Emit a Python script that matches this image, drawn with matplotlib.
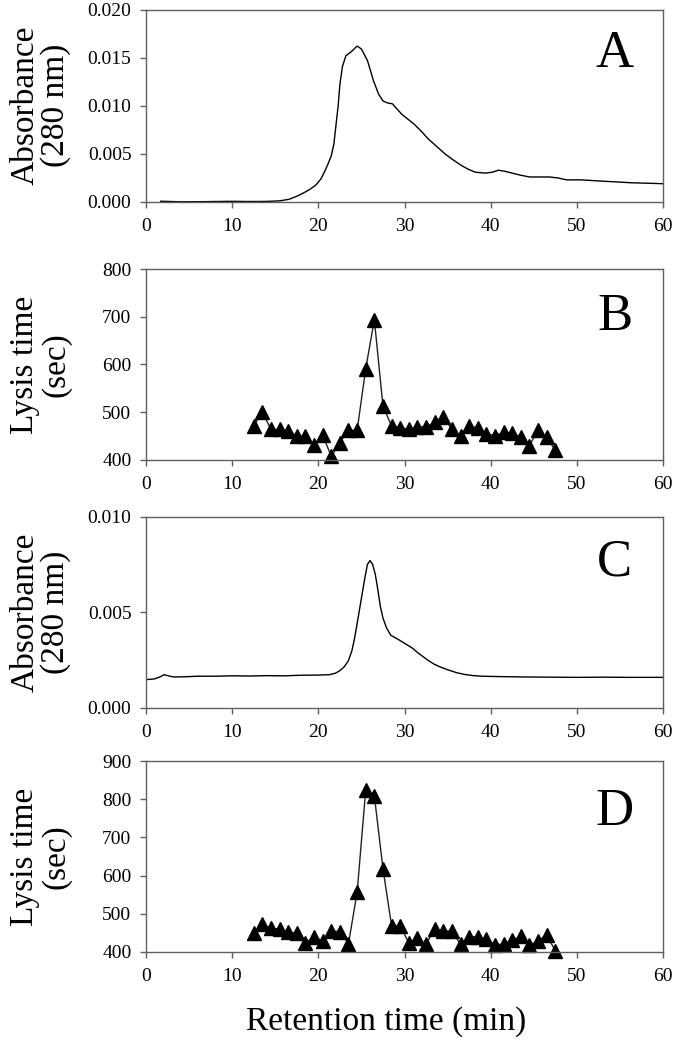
import matplotlib
matplotlib.use('Agg')
import matplotlib.pyplot as plt
from matplotlib.ticker import FormatStrFormatter

plt.rcParams['font.family'] = ['Liberation Serif', 'DejaVu Serif']

# Panel A: absorbance trace
a_time = [1.7, 4, 6, 8, 10, 12, 14, 15.5, 16.6, 17.5, 18.2, 19.0, 19.7, 20.3, 20.7,
          21.1, 21.5, 21.8, 22.0, 22.3, 22.5, 22.8, 23.2, 23.8, 24.5, 25.0, 25.7, 26.4,
          27.0, 27.5, 28.0, 28.6, 29.2, 29.7, 30.4, 31.1, 31.9, 32.7, 33.7, 34.7, 35.6,
          36.6, 37.4, 38.2, 39.4, 40.2, 40.9, 41.6, 42.5, 43.4, 44.5, 45.5, 46.8, 47.8,
          48.8, 50.5, 52.3, 54.3, 56.3, 58.2, 60]
a_abs = [0.00008, 0.00002, 0.00003, 0.00005, 0.00007, 0.00005, 0.00006, 0.00012,
         0.00028, 0.0006, 0.0009, 0.0013, 0.00175, 0.0024, 0.0031, 0.0039, 0.0048,
         0.0060, 0.0076, 0.0100, 0.0122, 0.0141, 0.0152, 0.0156, 0.0162, 0.0159,
         0.0147, 0.0126, 0.0112, 0.0105, 0.0103, 0.0102, 0.0096, 0.0091, 0.0086,
         0.0081, 0.0074, 0.0066, 0.0058, 0.0050, 0.0044, 0.0038, 0.0034, 0.0031,
         0.0030, 0.0031, 0.0033, 0.0032, 0.0030, 0.0028, 0.0026, 0.0026, 0.0026,
         0.0025, 0.0023, 0.0023, 0.0022, 0.0021, 0.0020, 0.00195, 0.0019]

# Panel B: lysis time of fractions
b_time = [12.5 + i for i in range(36)]
b_lysis = [471, 501, 464, 464, 461, 450, 450, 432, 452, 408, 436, 463, 462, 591,
           694, 513, 471, 468, 464, 470, 469, 479, 491, 464, 451, 472, 467, 455,
           451, 458, 456, 448, 430, 463, 448, 420]

# Panel C: absorbance trace
c_time = [0, 1.0, 1.6, 2.1, 2.6, 3.2, 4.5, 6, 8, 10, 12, 14, 16, 18, 20, 21.3, 22.0,
          22.5, 23.0, 23.5, 23.9, 24.2, 24.5, 24.8, 25.1, 25.4, 25.7, 26.0, 26.3, 26.6,
          26.9, 27.2, 27.5, 27.9, 28.4, 29.2, 30.3, 31.0, 31.5, 32.1, 32.7, 33.4, 34.1,
          35.0, 36.0, 37.0, 38.0, 39.0, 41, 44, 47, 50, 53, 56, 60]
c_abs = [0.00148, 0.00152, 0.00162, 0.00174, 0.00168, 0.00162, 0.00163, 0.00166,
         0.00166, 0.00168, 0.00167, 0.00169, 0.00168, 0.00171, 0.00172, 0.00174,
         0.00182, 0.00195, 0.00215, 0.00248, 0.0030, 0.00363, 0.0044, 0.0052, 0.0060,
         0.0068, 0.0075, 0.0077, 0.0075, 0.0070, 0.0062, 0.0053, 0.0047, 0.0042,
         0.0038, 0.0036, 0.0033, 0.0031, 0.0029, 0.0027, 0.0025, 0.0023, 0.00215,
         0.0020, 0.00185, 0.00175, 0.00169, 0.00166, 0.00164, 0.00162, 0.00161,
         0.00160, 0.00161, 0.00160, 0.00160]

# Panel D: lysis time of fractions
d_time = [12.5 + i for i in range(36)]
d_lysis = [450, 472, 462, 460, 452, 450, 424, 439, 429, 455, 453, 422, 556, 824,
           809, 618, 469, 468, 424, 437, 420, 460, 455, 455, 420, 440, 440, 434,
           419, 421, 431, 441, 419, 428, 445, 403]

x_ticks = [0, 10, 20, 30, 40, 50, 60]

W, H = 675, 1047
fig = plt.figure(figsize=(W / 100, H / 100), dpi=100)
frame = '#606060'


def make_axes(top, bottom):
    ax = fig.add_axes([146 / W, 1 - bottom / H, 517 / W, (bottom - top) / H])
    for s in ax.spines.values():
        s.set_color(frame)
        s.set_linewidth(1.0)
    ax.tick_params(direction='out', length=4.5, width=1, color=frame,
                   labelsize=14, top=False, right=False)
    ax.tick_params(axis='y', pad=6)
    ax.tick_params(axis='x', pad=7)
    ax.set_xlim(0, 60)
    ax.set_xticks(x_ticks)
    return ax


axA = make_axes(9.5, 202)
axA.plot(a_time, a_abs, color='black', lw=1.0)
axA.set_ylim(0, 0.020)
axA.set_yticks([0, 0.005, 0.010, 0.015, 0.020])
axA.yaxis.set_major_formatter(FormatStrFormatter('%.3f'))
axA.set_ylabel('Absorbance\n(280 nm)', fontsize=24, linespacing=1.0)

axB = make_axes(269, 460)
axB.plot(b_time, b_lysis, color='#222222', lw=1.0, marker='^', ms=9.5,
         mfc='black', mec='black', clip_on=False)
axB.set_ylim(400, 800)
axB.set_yticks([400, 500, 600, 700, 800])
axB.set_ylabel('Lysis time\n(sec)', fontsize=24, linespacing=1.0)

axC = make_axes(516.5, 708)
axC.plot(c_time, c_abs, color='black', lw=1.0)
axC.set_ylim(0, 0.010)
axC.set_yticks([0, 0.005, 0.010])
axC.yaxis.set_major_formatter(FormatStrFormatter('%.3f'))
axC.set_ylabel('Absorbance\n(280 nm)', fontsize=24, linespacing=1.0)

axD = make_axes(761, 952)
axD.plot(d_time, d_lysis, color='#222222', lw=1.0, marker='^', ms=9.5,
         mfc='black', mec='black', clip_on=False)
axD.set_ylim(400, 900)
axD.set_yticks([400, 500, 600, 700, 800, 900])
axD.set_ylabel('Lysis time\n(sec)', fontsize=24, linespacing=1.0)

for ax, letter, ly in zip([axA, axB, axC, axD], ['A', 'B', 'C', 'D'],
                          [0.70, 0.68, 0.69, 0.665]):
    ax.yaxis.set_label_coords(-0.145, 0.5)
    ax.text(0.907, ly, letter, transform=ax.transAxes, ha='center',
            va='baseline', fontsize=38)

fig.text(386 / W, 1 - 1022 / H, 'Retention time (min)', ha='center', va='center',
         fontsize=24)

fig.savefig('out.png', dpi=100)
